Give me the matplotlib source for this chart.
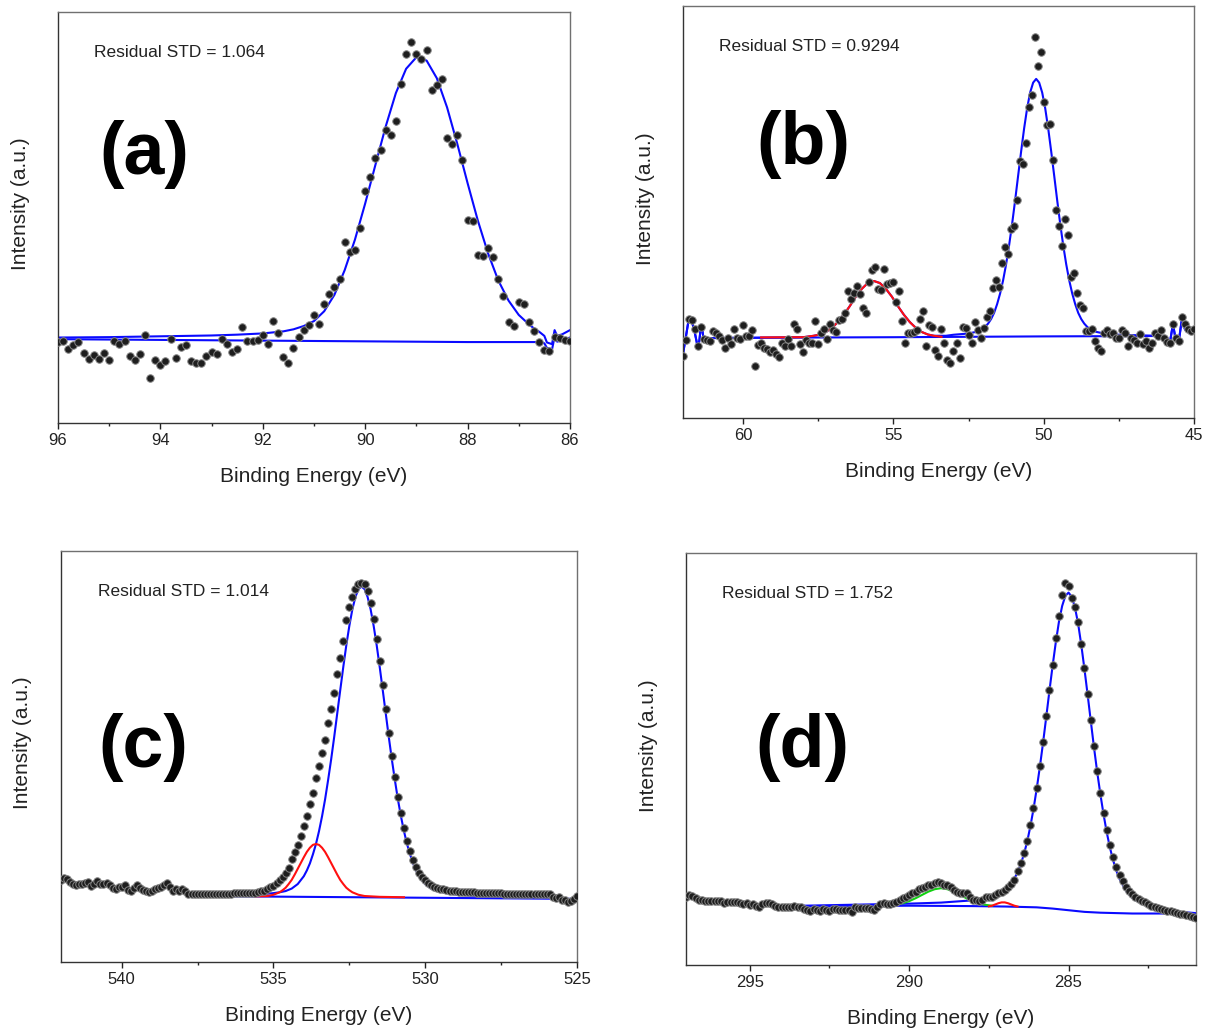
import numpy as np
import matplotlib
matplotlib.use('Agg')
import matplotlib.pyplot as plt
from matplotlib.ticker import MultipleLocator

plt.rcParams['font.family'] = ['Liberation Sans', 'DejaVu Sans']

# ---------------- panel (a) : scan 96.0 -> 86.0 eV, step 0.1 ----------------
a_scan = (96.0, 0.1)
a_y = [19.8, 20.0, 18.0, 19.0, 19.8, 17.0, 15.6, 16.6, 15.6, 17.0,
       15.4, 20.0, 19.2, 20.0, 16.4, 15.4, 16.8, 21.5, 10.9, 15.4,
       14.2, 15.1, 20.4, 15.8, 18.6, 18.9, 15.1, 14.7, 14.6, 16.2,
       17.4, 16.8, 20.4, 19.2, 17.2, 18.0, 23.3, 20.0, 20.0, 20.2,
       21.3, 19.2, 24.9, 22.0, 16.0, 14.7, 18.2, 20.9, 22.7, 23.9,
       26.3, 24.1, 28.9, 31.3, 33.0, 35.0, 44.1, 41.5, 42.1, 47.4,
       56.5, 59.8, 64.6, 66.4, 71.3, 70.0, 73.5, 82.6, 89.7, 92.6,
       89.7, 88.7, 90.7, 81.0, 82.2, 83.6, 69.4, 67.9, 70.2, 64.0,
       49.4, 49.1, 40.9, 40.7, 42.7, 40.5, 35.0, 30.8, 24.7, 23.5,
       29.4, 28.9, 24.5, 22.3, 19.8, 17.8, 17.6, 21.0, 20.6, 20.2,
       20.0]
a_fit_x = [96.0, 95.0, 94.0, 93.0, 92.5, 92.0, 91.6, 91.4, 91.2, 91.0,
           90.8, 90.6, 90.4, 90.2, 90.0, 89.8, 89.6, 89.4, 89.2, 89.0,
           88.8, 88.6, 88.4, 88.2, 88.0, 87.8, 87.6, 87.4, 87.2, 87.0,
           86.8, 86.7, 86.6, 86.5, 86.45, 86.35, 86.3, 86.25, 86.15, 86.0]
a_fit_y = [20.8, 20.9, 21.1, 21.3, 21.5, 21.8, 22.3, 22.8, 23.6, 24.8,
           27.2, 31.2, 37.2, 44.6, 53.4, 62.8, 72.1, 80.3, 86.2, 89.0,
           88.2, 83.9, 76.8, 67.9, 58.4, 49.3, 41.3, 34.7, 29.8, 26.3,
           24.0, 23.0, 22.2, 21.2, 19.6, 19.2, 22.6, 21.2, 21.6, 22.6]
a_base_x = [96.0, 88.0, 86.6, 86.5, 86.45, 86.35, 86.3, 86.25, 86.15, 86.0]
a_base_y = [20.4, 19.7, 19.7, 19.4, 18.3, 17.9, 21.0, 19.8, 20.2, 20.8]

# ---------------- panel (b) : scan 62.0 -> 45.0 eV ----------------
b_scan = (62.0, 0.1)
b_y = [15.0, 19.0, 24.0, 23.8, 21.7, 17.4, 22.2, 19.1, 19.0, 18.7,
       21.0, 20.6, 19.8, 19.0, 17.1, 19.5, 17.9, 21.7, 19.3, 19.1,
       22.5, 19.8, 19.8, 21.4, 12.5, 17.7, 18.2, 17.0, 16.7, 15.9,
       16.5, 15.5, 14.8, 18.2, 17.5, 19.1, 17.4, 22.7, 21.7, 17.9,
       16.1, 18.9, 18.3, 18.2, 23.5, 17.9, 20.6, 21.6, 19.1, 22.7,
       21.4, 20.9, 23.8, 24.1, 25.4, 30.8, 28.8, 30.4, 32.0, 30.0,
       26.8, 25.4, 32.9, 35.9, 36.7, 31.4, 31.1, 36.1, 32.4, 32.7,
       32.9, 28.2, 30.8, 23.6, 18.1, 20.6, 20.6, 20.9, 21.4, 24.0,
       26.0, 17.5, 22.5, 22.0, 16.5, 15.1, 21.5, 18.3, 14.0, 13.3,
       16.3, 18.2, 14.5, 22.2, 21.9, 20.1, 18.2, 23.2, 21.4, 19.5,
       21.9, 24.6, 26.0, 31.6, 33.6, 31.9, 37.7, 41.6, 39.9, 45.8,
       46.6, 52.8, 62.3, 61.7, 66.7, 75.6, 78.3, 92.4, 85.5, 88.8,
       76.8, 71.2, 71.4, 62.7, 50.4, 46.6, 41.7, 48.2, 44.3, 34.1,
       35.3, 30.3, 27.4, 26.8, 21.1, 21.0, 21.7, 18.7, 17.1, 16.3,
       20.7, 21.4, 20.3, 20.7, 19.5, 19.3, 21.3, 20.7, 17.5, 19.5,
       19.0, 18.3, 20.3, 17.9, 18.7, 17.1, 18.3, 20.7, 19.9, 21.3,
       19.3, 18.5, 18.3, 22.8, 19.3, 18.7, 24.4, 22.8, 21.5, 21.0,
       21.5]
b_fit_x = [62.0, 61.9, 61.8, 61.75, 61.7, 61.6, 61.5, 61.45, 61.4, 61.35,
           61.3, 61.2, 61.1, 61.0, 59.0, 58.0, 57.65, 57.45, 57.25, 57.05,
           56.85, 56.65, 56.45, 56.25, 56.05, 55.85, 55.65, 55.45, 55.25, 55.05,
           54.85, 54.65, 54.45, 54.25, 54.05, 53.85, 53.65, 53.25, 53.0, 52.5,
           52.25, 52.05, 51.95, 51.85, 51.75, 51.65, 51.55, 51.45, 51.35, 51.25,
           51.15, 51.05, 50.95, 50.85, 50.75, 50.65, 50.55, 50.45, 50.35, 50.25,
           50.15, 50.05, 49.95, 49.85, 49.75, 49.65, 49.55, 49.45, 49.35, 49.25,
           49.15, 49.05, 48.95, 48.85, 48.75, 48.65, 48.55, 48.45, 48.25, 48.0,
           47.5, 46.5, 46.0, 45.9, 45.8, 45.7, 45.6, 45.5, 45.4, 45.3,
           45.2, 45.0]
b_fit_y = [15.5, 19.8, 24.3, 24.0, 23.4, 20.5, 16.9, 19.0, 22.6, 21.0,
           18.6, 19.0, 19.3, 19.4, 19.5, 19.6, 19.95, 20.25, 20.85, 21.85,
           23.25, 25.05, 27.15, 29.45, 31.35, 32.75, 33.25, 32.75, 31.35, 29.45,
           27.15, 25.05, 23.25, 21.85, 20.85, 20.25, 19.95, 19.95, 20.2, 20.5,
           20.9, 21.5, 22.1, 22.9, 24.0, 25.5, 27.6, 30.2, 33.4, 37.3,
           41.9, 47.1, 52.8, 58.8, 64.7, 70.3, 75.2, 79.0, 81.4, 82.3,
           81.4, 79.0, 75.2, 70.3, 64.7, 58.8, 52.8, 47.1, 41.9, 37.3,
           33.4, 30.2, 27.6, 25.5, 24.0, 22.9, 22.1, 21.5, 20.9, 20.5,
           20.2, 20.0, 19.9, 19.5, 18.3, 22.8, 18.7, 18.9, 24.1, 21.5,
           21.1, 21.0]
b_base_x = [62.0, 61.9, 61.8, 61.75, 61.7, 61.6, 61.5, 61.45, 61.4, 61.35,
            61.3, 61.2, 61.1, 61.0, 59.0, 55.0, 50.0, 46.0, 45.9, 45.8,
            45.7, 45.6, 45.5, 45.4, 45.3, 45.2, 45.0]
b_base_y = [15.5, 19.8, 24.3, 24.0, 23.4, 20.5, 16.9, 19.0, 22.6, 21.0,
            18.6, 19.0, 19.3, 19.4, 19.5, 19.6, 19.8, 19.9, 19.5, 18.3,
            22.8, 18.7, 18.9, 24.1, 21.5, 21.1, 21.0]
b_red_x = [59.4, 58.0, 57.65, 57.45, 57.25, 57.05, 56.85, 56.65, 56.45, 56.25,
           56.05, 55.85, 55.65, 55.45, 55.25, 55.05, 54.85, 54.65, 54.45, 54.25,
           54.05, 53.85, 53.65, 53.4]
b_red_y = [19.55, 19.6, 19.95, 20.25, 20.85, 21.85, 23.25, 25.05, 27.15, 29.45,
           31.35, 32.75, 33.25, 32.75, 31.35, 29.45, 27.15, 25.05, 23.25, 21.85,
           20.85, 20.25, 19.95, 19.7]

# ---------------- panel (c) : scan 542.0 -> 525.0 eV ----------------
c_scan = (542.0, 0.1)
c_y = [21.8, 22.2, 22.0, 21.4, 20.8, 20.6, 20.8, 20.8, 21.0, 21.3,
       20.4, 20.8, 21.5, 20.7, 20.8, 21.1, 20.6, 19.8, 19.5, 20.1,
       20.2, 20.5, 19.4, 19.0, 19.8, 20.6, 19.8, 19.4, 19.0, 18.8,
       19.2, 19.6, 19.8, 20.2, 20.6, 21.1, 20.0, 19.0, 19.5, 19.2,
       19.5, 19.0, 18.3, 18.4, 18.4, 18.4, 18.4, 18.4, 18.4, 18.4,
       18.4, 18.4, 18.5, 18.5, 18.5, 18.5, 18.5, 18.6, 18.6, 18.6,
       18.6, 18.6, 18.7, 18.7, 18.7, 18.8, 19.0, 19.2, 19.5, 20.0,
       20.4, 21.0, 21.8, 22.5, 23.5, 24.8, 26.8, 28.5, 30.3, 32.5,
       34.9, 37.3, 40.2, 42.8, 46.6, 49.4, 52.6, 55.8, 59.8, 63.2,
       67.2, 71.8, 75.7, 79.7, 84.8, 88.0, 90.4, 92.2, 93.6, 93.8,
       93.4, 91.8, 89.0, 85.0, 80.2, 74.8, 69.0, 63.2, 57.4, 51.9,
       46.8, 42.0, 37.9, 34.3, 31.2, 28.7, 26.6, 24.9, 23.5, 22.5,
       21.7, 21.1, 20.6, 20.2, 19.9, 19.7, 19.5, 19.3, 19.2, 19.1,
       19.0, 18.9, 18.9, 18.9, 18.8, 18.8, 18.8, 18.7, 18.7, 18.7,
       18.7, 18.6, 18.6, 18.6, 18.6, 18.6, 18.5, 18.5, 18.5, 18.5,
       18.5, 18.5, 18.4, 18.4, 18.4, 18.4, 18.4, 18.4, 18.4, 18.4,
       18.3, 18.3, 17.6, 17.3, 17.6, 17.0, 16.9, 16.5, 16.6, 17.2,
       17.8]
c_main_x = [536.5, 536.0, 535.5, 535.2, 535.0, 534.8, 534.6, 534.4, 534.2, 534.0,
            533.9, 533.8, 533.7, 533.6, 533.5, 533.4, 533.3, 533.2, 533.1, 533.0,
            532.9, 532.8, 532.7, 532.6, 532.5, 532.4, 532.3, 532.2, 532.1, 532.0,
            531.9, 531.8, 531.7, 531.6, 531.5, 531.4, 531.3, 531.2, 531.1, 531.0,
            530.9, 530.8, 530.7, 530.6, 530.5, 530.4, 530.3, 530.2, 530.1, 530.0,
            529.8, 529.6, 529.4, 529.2, 529.0, 528.5, 528.0, 527.0]
c_main_y = [18.2, 18.3, 18.4, 18.45, 18.6, 18.8, 19.1, 19.7, 20.8, 22.7,
            24.1, 25.8, 28.0, 30.5, 33.6, 37.2, 41.3, 46.0, 51.0, 56.4,
            62.1, 67.8, 73.4, 78.7, 83.4, 87.4, 90.4, 92.3, 92.9, 92.3,
            90.4, 87.4, 83.4, 78.7, 73.4, 67.8, 62.1, 56.4, 51.0, 46.0,
            41.3, 37.2, 33.6, 30.5, 28.0, 25.8, 24.1, 22.7, 21.7, 20.8,
            19.7, 19.1, 18.8, 18.5, 18.3, 18.0, 17.8, 17.6]
c_red_x = [535.6, 535.2, 535.0, 534.8, 534.7, 534.6, 534.5, 534.4, 534.3, 534.2,
           534.1, 534.0, 533.9, 533.8, 533.7, 533.6, 533.5, 533.4, 533.3, 533.2,
           533.1, 533.0, 532.9, 532.8, 532.7, 532.6, 532.5, 532.4, 532.2, 532.0,
           531.5, 530.7]
c_red_y = [17.8, 17.9, 18.2, 18.8, 19.3, 19.9, 20.8, 21.8, 23.1, 24.5,
           25.9, 27.3, 28.6, 29.6, 30.3, 30.5, 30.3, 29.6, 28.6, 27.3,
           25.9, 24.5, 23.1, 21.8, 20.8, 19.9, 19.3, 18.8, 18.2, 17.9,
           17.7, 17.6]
c_base_x = [537.7, 525.0]
c_base_y = [17.9, 17.2]

# ---------------- panel (d) : scan 297.0 -> 281.0 eV ----------------
d_scan = (297.0, 0.1)
d_y = [18.3, 18.7, 18.5, 18.0, 17.5, 17.6, 17.3, 17.3, 17.3, 17.3,
       17.3, 17.2, 16.7, 16.9, 16.9, 17.1, 16.9, 16.8, 16.5, 16.7,
       16.3, 16.6, 16.0, 15.9, 16.5, 16.8, 16.8, 16.5, 16.1, 15.9,
       15.9, 15.9, 15.7, 15.9, 16.0, 15.7, 15.9, 15.2, 15.0, 14.9,
       15.2, 15.0, 14.9, 15.2, 15.0, 14.9, 15.2, 15.2, 15.0, 15.0,
       15.0, 15.0, 14.6, 15.7, 15.5, 15.5, 15.5, 15.5, 15.3, 15.0,
       15.9, 16.5, 16.8, 16.5, 16.5, 16.7, 17.1, 17.5, 17.9, 18.3,
       18.7, 19.1, 19.5, 20.1, 20.3, 20.7, 21.1, 21.1, 21.7, 21.9,
       21.5, 21.1, 21.1, 20.6, 19.9, 19.5, 19.1, 19.1, 19.3, 18.3,
       17.5, 17.4, 17.3, 17.6, 18.1, 18.1, 18.3, 18.7, 19.1, 19.5,
       19.9, 20.7, 21.4, 22.3, 24.4, 26.4, 28.9, 31.9, 35.6, 39.8,
       44.7, 50.0, 55.9, 62.2, 68.5, 74.6, 81.0, 86.5, 91.5, 94.4,
       93.8, 90.8, 88.6, 84.9, 79.7, 73.8, 67.6, 61.1, 54.8, 48.8,
       43.4, 38.6, 34.4, 30.8, 27.8, 25.4, 23.5, 22.0, 20.6, 19.6,
       18.9, 18.3, 17.8, 17.3, 16.9, 16.5, 16.1, 15.8, 15.5, 15.3,
       15.1, 14.9, 14.7, 14.5, 14.4, 14.2, 14.0, 13.8, 13.5, 13.3,
       13.0]
d_main_x = [293.3, 291.0, 290.0, 289.0, 288.0, 287.5, 287.0, 286.8, 286.6, 286.5,
            286.4, 286.3, 286.2, 286.1, 286.0, 285.9, 285.8, 285.7, 285.6, 285.5,
            285.4, 285.3, 285.2, 285.1, 285.0, 284.9, 284.8, 284.7, 284.6, 284.5,
            284.4, 284.3, 284.2, 284.1, 284.0, 283.9, 283.8, 283.7, 283.6, 283.5,
            283.4, 283.2, 283.0, 282.8, 282.5, 282.0, 281.5, 281.0]
d_main_y = [16.1, 16.45, 16.6, 16.85, 17.4, 17.95, 19.7, 21.35, 24.1, 26.1,
            28.6, 31.55, 35.25, 39.5, 44.4, 49.75, 55.6, 61.85, 68.2, 74.3,
            80.0, 85.05, 88.85, 91.3, 92.1, 91.1, 88.55, 84.6, 79.4, 73.5,
            67.25, 60.8, 54.45, 48.5, 43.1, 38.2, 33.85, 30.15, 27.1, 24.6,
            22.6, 19.75, 18.0, 17.0, 16.2, 15.1, 14.6, 14.3]
d_green_x = [290.4, 290.2, 290.0, 289.8, 289.6, 289.4, 289.2, 289.0,
             288.8, 288.6, 288.4, 288.2, 288.0, 287.8, 287.6, 287.4]
d_green_y = [16.4, 16.7, 17.2, 17.9, 18.7, 19.5, 20.1, 20.35,
             20.1, 19.5, 18.7, 17.9, 17.1, 16.6, 16.3, 16.1]
d_red_x = [287.5, 287.4, 287.3, 287.2, 287.1, 287.0, 286.9, 286.8, 286.7, 286.6]
d_red_y = [15.95, 16.1, 16.4, 16.7, 16.9, 16.9, 16.7, 16.4, 16.1, 15.9]
d_base_x = [293.3, 290.0, 288.0, 287.0, 286.0, 285.5, 285.0, 284.5, 284.0, 283.0, 281.0]
d_base_y = [15.9, 16.1, 16.0, 15.9, 15.7, 15.4, 15.0, 14.6, 14.4, 14.2, 14.2]

BLUE = '#0a0aff'
RED = '#ff1010'
GREEN = '#10d010'


def scan_axis(scan, n):
    start, step = scan
    return start - step * np.arange(n)


def panel(rect, scan, y, lines, xlim, ylim, major, minor, std, tag, tag_xy):
    ax = fig.add_axes(rect)
    for lx, ly, col in lines:
        ax.plot(lx, ly, '-', color=col, lw=1.5, zorder=2)
    ax.plot(scan_axis(scan, len(y)), y, 'o', ms=5.4, mfc='#1e1e1e',
            mec='#858585', mew=0.7, zorder=3)
    ax.set_xlim(*xlim)
    ax.set_ylim(*ylim)
    ax.set_yticks([])
    ax.xaxis.set_major_locator(MultipleLocator(major))
    ax.xaxis.set_minor_locator(MultipleLocator(minor))
    ax.tick_params(axis='x', which='major', direction='out', length=4,
                   width=1, pad=3, labelsize=12, colors='#222222')
    ax.tick_params(axis='x', which='minor', direction='out', length=2.5,
                   width=1, colors='#222222')
    for s in ('left', 'bottom'):
        ax.spines[s].set_color('#333333')
    for s in ('top', 'right'):
        ax.spines[s].set_color('#707070')
    for s in ax.spines.values():
        s.set_linewidth(1.0)
    ax.set_xlabel('Binding Energy (eV)', fontsize=15, color='#222222')
    ax.xaxis.label.set_va('center')
    ax.xaxis.set_label_coords(0.5, -0.13)
    ax.set_ylabel('Intensity (a.u.)', fontsize=15, color='#222222')
    ax.yaxis.label.set_va('center')
    ax.yaxis.set_label_coords(-0.074, 0.533)
    ax.text(0.071, 0.902, 'Residual STD = ' + std, transform=ax.transAxes,
            fontsize=12.5, ha='left', va='center', color='#222222')
    ax.text(tag_xy[0], tag_xy[1], tag, transform=ax.transAxes, fontsize=53,
            fontweight='bold', ha='center', va='center', color='black')
    return ax


fig = plt.figure(figsize=(12.15, 10.31), dpi=100)

panel([0.0477, 0.5897, 0.4214, 0.3986], a_scan, a_y,
      [(a_base_x, a_base_y, BLUE), (a_fit_x, a_fit_y, BLUE)],
      (96, 86), (0, 100), 2, 1, '1.064', '(a)', (0.168, 0.654))

panel([0.5621, 0.5946, 0.4206, 0.3996], b_scan, b_y,
      [(b_base_x, b_base_y, BLUE), (b_fit_x, b_fit_y, BLUE),
       (b_red_x, b_red_y, RED)],
      (62, 45), (0, 100), 5, 2.5, '0.9294', '(b)', (0.235, 0.663))

panel([0.0502, 0.0669, 0.4247, 0.3986], c_scan, c_y,
      [(c_base_x, c_base_y, BLUE), (c_main_x, c_main_y, BLUE),
       (c_red_x, c_red_y, RED)],
      (542, 525), (1.9, 101.5), 5, 2.5, '1.014', '(c)', (0.16, 0.521))

panel([0.5646, 0.0640, 0.4198, 0.3996], d_scan, d_y,
      [(d_base_x, d_base_y, BLUE), (d_main_x, d_main_y, BLUE),
       (d_green_x, d_green_y, GREEN), (d_red_x, d_red_y, RED)],
      (297, 281), (1.7, 101.7), 5, 2.5, '1.752', '(d)', (0.228, 0.527))

fig.savefig('out.png', dpi=100)
